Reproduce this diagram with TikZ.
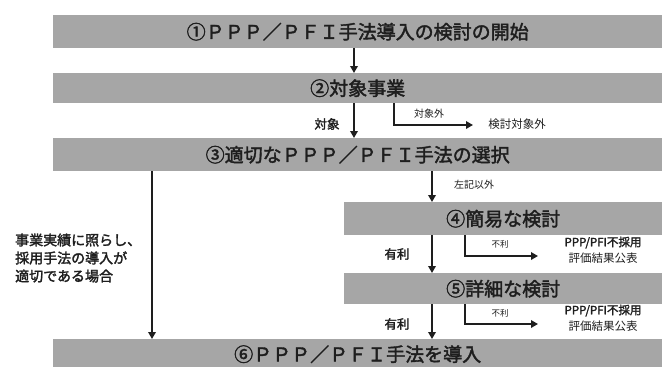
\documentclass[tikz,border=0pt]{standalone}
\usepackage{fontspec}
\setmainfont{Noto Sans CJK JP}[BoldFont=Noto Sans CJK JP,BoldFeatures={FakeBold=2}]
\usetikzlibrary{arrows.meta}
\definecolor{boxgray}{HTML}{A6A6A6}
\definecolor{txt}{HTML}{1E1E1E}
\begin{document}
\begin{tikzpicture}[x=1pt,y=-1pt,
  box/.style={fill=boxgray,draw=none,inner sep=0pt,anchor=north west,text=txt,font=\fontsize{19}{19}\selectfont\bfseries},
  arr/.style={line width=1.8pt,draw=txt,-{Triangle[length=7pt,width=7.5pt]}},
  lab/.style={inner sep=0pt,text=txt,font=\fontsize{12.5}{12.5}\selectfont\bfseries},
  small/.style={inner sep=0pt,text=txt,font=\fontsize{9}{9}\selectfont},
  note/.style={inner sep=0pt,text=txt,align=center,font=\fontsize{11.5}{16}\selectfont\bfseries}]
\useasboundingbox (0,0) rectangle (662,367);
\fill[white] (0,0) rectangle (662,367);
% boxes
\node[box,minimum width=609pt,minimum height=33pt] (b1) at (53,15) {①ＰＰＰ／ＰＦＩ手法導入の検討の開始};
\node[box,minimum width=609pt,minimum height=30pt] (b2) at (53,73) {②対象事業};
\node[box,minimum width=609pt,minimum height=33pt] (b3) at (53,138) {③適切なＰＰＰ／ＰＦＩ手法の選択};
\node[box,minimum width=318pt,minimum height=33pt] (b4) at (344,202) {④簡易な検討};
\node[box,minimum width=318pt,minimum height=31pt] (b5) at (344,273) {⑤詳細な検討};
\node[box,minimum width=609pt,minimum height=30pt] (b6) at (53,339) {⑥ＰＰＰ／ＰＦＩ手法を導入};
% x positions
\coordinate (xa) at (354,0);
\coordinate (xb) at (432,0);
\coordinate (xl) at (152,0);
\coordinate (xc) at (394,0);
\coordinate (xd) at (465,0);
% main arrows
\draw[arr] (xa |- b1.south) -- (xa |- b2.north);
\draw[arr] (xa |- b2.south) -- (xa |- b3.north);
\draw[arr] (xb |- b3.south) -- (xb |- b4.north);
\draw[arr] (xb |- b4.south) -- (xb |- b5.north);
\draw[arr] (xb |- b5.south) -- (xb |- b6.north);
\draw[arr] (xl |- b3.south) -- (xl |- b6.north);
% branches
\coordinate (e1) at (473,125);
\coordinate (e2) at (538,256);
\coordinate (e3) at (538,324);
\draw[arr] (xc |- b2.south) |- (e1);
\draw[arr] (xd |- b4.south) |- (e2);
\draw[arr] (xd |- b5.south) |- (e3);
% labels
\node[lab] (l1) at (327,124) {対象};
\node[small,font=\fontsize{10}{10}\selectfont] (l2) at (429,114) {対象外};
\node[lab,font=\fontsize{11.5}{11.5}\selectfont] (l3) at (517,124) {検討対象外};
\node[small,font=\fontsize{10}{10}\selectfont] (l4) at (474,185) {左記以外};
\node[lab] (l5) at (397,254) {有利};
\node[small,font=\fontsize{8.5}{8.5}\selectfont] (l6) at (500,244) {不利};
\node[note] (l7) at (603,250) {PPP/PFI不採用\\\mdseries 評価結果公表};
\node[lab] (l8) at (397,324) {有利};
\node[small,font=\fontsize{8.5}{8.5}\selectfont] (l9) at (500,313) {不利};
\node[note] (l10) at (603,318) {PPP/PFI不採用\\\mdseries 評価結果公表};
\node[inner sep=0pt,text=txt,align=left,anchor=west,font=\fontsize{14}{18}\selectfont\bfseries] (l11) at (15,258) {事業実績に照らし、\\採用手法の導入が\\適切である場合};
\end{tikzpicture}
\end{document}
